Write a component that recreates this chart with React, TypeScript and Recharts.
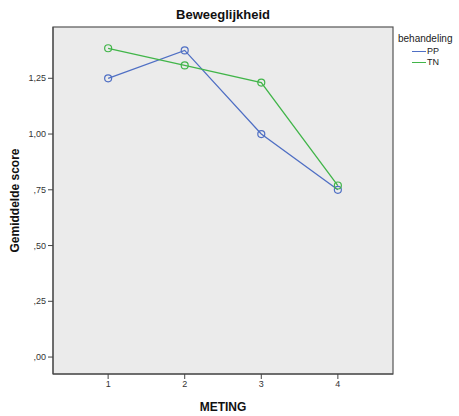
import React from 'react';
import { LineChart, Line, XAxis, YAxis } from 'recharts';

const metingen = [1, 2, 3, 4];
const ppScores = [1.25, 1.375, 1.0, 0.75];
const tnScores = [1.3846, 1.3077, 1.2308, 0.7692];
const yTicks = [0, 0.25, 0.5, 0.75, 1.0, 1.25];

const data = metingen.map((m, i) => ({ meting: m, PP: ppScores[i], TN: tnScores[i] }));

const FONT = '"Liberation Sans", Arial, sans-serif';
const PP_COLOR = '#4f6fc4';
const TN_COLOR = '#41b549';

const formatScore = (v: number) => {
  const s = v.toFixed(2).replace('.', ',');
  return s.startsWith('0') ? s.slice(1) : s;
};

const YLabel = ({ viewBox }: any) => {
  const cy = viewBox.y + viewBox.height / 2;
  return (
    <text x={19} y={cy} transform={`rotate(-90 19 ${cy})`} textAnchor="middle"
      fontFamily={FONT} fontSize={12} fontWeight="bold" fill="#111">
      Gemiddelde score
    </text>
  );
};

const XLabel = ({ viewBox }: any) => {
  const cx = viewBox.x + viewBox.width / 2;
  return (
    <text x={cx} y={411} textAnchor="middle" fontFamily={FONT} fontSize={12}
      fontWeight="bold" fill="#111">
      METING
    </text>
  );
};

const LegendBox = () => (
  <div style={{
    position: 'absolute', left: 398, top: 33, fontFamily: FONT, fontSize: 10,
    color: '#222', lineHeight: '11px'
  }}>
    <div style={{ marginBottom: 2 }}>behandeling</div>
    {[['PP', PP_COLOR], ['TN', TN_COLOR]].map(([name, color]) => (
      <div key={name} style={{ display: 'flex', alignItems: 'center', marginLeft: 14, fontSize: 9 }}>
        <span style={{ display: 'inline-block', width: 14, height: 1.5, background: color, marginRight: 1 }} />
        {name}
      </div>
    ))}
  </div>
);

export default function App() {
  return (
    <div style={{ position: 'absolute', left: 0, top: 0, width: 459, height: 416, background: '#fff' }}>
      <div style={{
        position: 'absolute', left: 53, width: 340, top: 7, textAlign: 'center',
        fontFamily: FONT, fontSize: 13, fontWeight: 'bold', color: '#111'
      }}>
        Beweeglijkheid
      </div>
      <LineChart width={459} height={416} data={data}
        margin={{ top: 27, right: 66, left: 0, bottom: 24 }}>
        <rect x={53} y={27} width={340} height={347} fill="#ebebeb" stroke="#555" strokeWidth={1.2} />
        <XAxis dataKey="meting" type="number" domain={[0.28, 4.72]} ticks={metingen}
          height={18} tickSize={5} tick={{ fontSize: 9, fill: '#333', fontFamily: FONT }}
          stroke="#444" tickLine={{ stroke: '#444' }} label={<XLabel />} />
        <YAxis type="number" domain={[-0.076, 1.48]} ticks={yTicks} width={53}
          tickFormatter={formatScore} tickSize={5}
          tick={{ fontSize: 9, fill: '#333', fontFamily: FONT }}
          stroke="#444" label={<YLabel />} />
        <Line dataKey="PP" stroke={PP_COLOR} strokeWidth={1.3} isAnimationActive={false}
          dot={{ r: 3.5, fill: 'none', stroke: PP_COLOR, strokeWidth: 1.2 }} />
        <Line dataKey="TN" stroke={TN_COLOR} strokeWidth={1.3} isAnimationActive={false}
          dot={{ r: 3.5, fill: 'none', stroke: TN_COLOR, strokeWidth: 1.2 }} />
      </LineChart>
      <LegendBox />
    </div>
  );
}
